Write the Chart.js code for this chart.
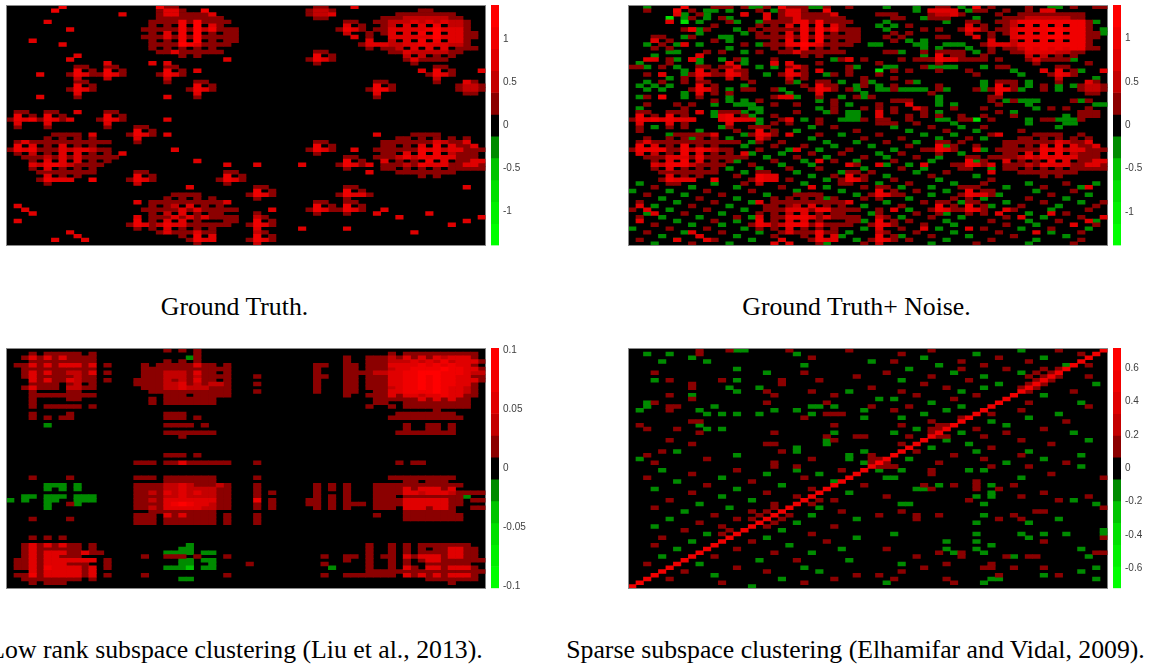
<!DOCTYPE html>
<html><head><meta charset="utf-8">
<style>
html,body{margin:0;padding:0;background:#fff;width:1159px;height:666px;overflow:hidden}
.w{position:absolute}
.w canvas{display:block}
.cap{position:absolute;white-space:nowrap;transform:translateX(-50%);font-family:"Liberation Serif","Times New Roman",serif;font-size:25.75px;line-height:30px;color:#000}
</style>
<script src="https://cdn.jsdelivr.net/npm/chart.js@4/dist/chart.umd.min.js"></script>
</head><body>
<script>
// Each entry: "row column values". Values: 0 empty, 1-5 rising reds, a-e rising greens.
const truthCells = [
"0 7 4","1 6 4","4 5 3","6 8 3","9 3 3","10 7 3","13 9 3","14 8 3","2 15 3","18 4 3","24 4 3","28 9 3",
"0 20 411","1 20 1331","1 26 4","2 20 13311113","3 20 111111111","4 19 11114151111","5 19 1010405031","6 18 1111141524111",
"7 19 103040501011","8 18 1113141511111","9 19 101040501011","10 19 11115431111","11 19 1010101010","12 20 113111111","13 23 101","14 29 3","15 19 3","15 21 3",
"15 13 3","16 9 11","16 13 11","17 9 401","17 13 401","18 8 14311431","19 9 2","19 13 2","20 9 11","21 9 401","22 8 1431","23 9 3","24 9 1",
"16 21 11","17 21 401","18 20 1431","19 21 2","20 21 1","24 21 3","17 25 3","20 25 11","21 25 401","22 24 1431","23 25 3","24 25 1",
"28 1 11","28 5 11","28 13 11","29 1 401","29 5 401","29 13 401","30 0 143414313","31 1 3","31 5 3","31 13 3","32 1 1","32 5 1","32 13 1","30 12 1431","30 21 3",
"32 17 11","33 17 401","34 16 1431","35 17 3","36 17 1","34 21 3",
"34 6 1111","34 11 3","35 5 1010101","36 1 1311111111111","37 1 403010301010","38 0 14341113233211","39 1 10201030301","39 13 1","39 15 3",
"40 2 1112131311111","41 3 103030301","41 13 1","42 3 3244321111","43 3 103010101","44 4 11111111","45 5 30101","46 4 14333","47 5 1","46 11 4",
"44 17 11","45 17 401","46 16 1431","47 17 2","38 22 3","41 25 3","42 29 3","42 33 3",
"44 29 11","45 29 401","46 28 1431","47 29 1","48 24 3","52 17 3",
"53 1 3","54 2 3","55 3 3","57 1 3","60 8 3","61 9 3","62 10 3","62 6 3",
"50 22 1111","51 21 1010101","52 19 11111111113","53 19 1012030101","54 18 1111131311111","55 19 1020301011","56 17 30111313131111","57 17 4010303010","57 29 11","58 16 14312433111111","59 17 101030101","59 27 1","60 20 13111311","61 23 104030","62 24 1433","63 25 1",
"0 41 11","1 40 1221","2 40 1223","3 41 11","0 46 3","4 45 11","5 45 301","6 44 1431","7 45 2","8 46 3",
"1 55 11","2 52 11111111","3 50 11122222211","4 49 1122232323221","5 50 120303040221","6 49 1133333453331","7 48 10130304050 3311","8 48 100333333533311","9 48 300203040403 31","10 47 133322334333221","11 48 10112030303 0111","12 51 1132222211","13 53 20201 01","14 53 131111","15 54 1",
"12 41 11","13 41 401","14 40 1431","15 41 1",
"16 57 11","17 55 3","17 57 401","17 63 3","18 56 1431","19 57 2","20 57 1",
"20 49 11","21 49 401","22 48 1441","23 49 3","24 49 1","20 61 31","21 60 1221","22 60 1221","23 61 11",
"34 49 3","38 46 3","36 41 11","37 41 401","38 40 1431","39 41 1","40 45 11","41 45 401","42 44 14313","43 45 1","44 48 3","42 39 3",
"48 33 11","49 33 401","50 32 1431","51 33 1","48 45 11","49 45 401","50 44 14331","51 45 1",
"52 41 11","53 41 401","54 40 14311431","55 41 1","55 45 1","52 45 11","53 45 401",
"54 35 3","55 49 3","54 50 3","56 52 3","55 56 3","56 63 3","57 61 3","58 59 3","60 54 3","59 39 3","59 45 3",
"55 33 1","56 33 21","57 33 401","58 32 1431","59 33 3","60 33 21","61 33 401","62 32 1431","63 33 2",
"34 54 1111","35 52 1101010101","36 50 11111113211 3","37 50 1101030403 113","38 49 111111434233111","39 50 110304040211 1","40 49 11124243433111","41 50 301010403011331","42 50 11121433311331","43 50 11010101011111","44 52 11111111","45 55 101","48 61 3"
];

const noiseCells = [
"0 2 a","0 11 111","0 15 1","0 16 aa","0 18 1","0 21 1","0 23 1","0 24 aa","0 26 1","0 29 1","0 34 a","0 38 a","0 44 a","0 46 4","0 48 1","0 53 1","0 56 aa","0 59 1","0 62 11",
"1 2 1","1 6 3","1 8 1","1 10 aa","1 13 a","1 17 1","1 19 aa","1 38 a","1 40 3333","1 45 a","1 46 11","1 50 1","1 53 1","1 55 33",
"2 6 3","2 7 a","2 9 1","2 10 a","2 15 3","2 18 3","2 33 111","2 41 1131","2 49 1","2 60 1",
"3 5 c","3 7 a","3 8 1","3 10 a","3 12 1","3 13 a","3 18 3","3 35 11","3 39 a","3 40 111","3 46 a","3 50 1",
"4 5 3","4 7 c","4 9 a","4 13 1","4 14 a","4 17 a","4 18 11","4 34 a","4 42 a","4 49 a","4 62 a",
"5 11 1","5 17 1","5 33 a","5 35 a","5 37 1","5 45 1",
"6 7 1","6 8 4","6 9 a","6 10 1","6 14 a","6 16 1","6 18 1","6 34 a","6 39 1","6 41 1","6 47 1","6 63 a",
"7 9 a","7 15 a","7 17 1","7 35 1","7 37 1","7 45 1","7 63 a",
"8 3 11","8 7 a","8 8 1","8 12 aa","8 17 1","8 34 1","8 36 1","8 41 11",
"9 3 3","9 5 1","9 11 1","9 13 a","9 35 1","9 37 a","9 39 a",
"10 2 a","10 4 1","10 6 a","10 7 1","10 9 a","10 15 1","10 17 a","10 18 11","10 29 1","10 32 aa","10 38 aa","10 42 aaa",
"11 3 1","11 5 1","11 13 a","11 39 a","11 41 a","11 45 a",
"12 5 aa","12 10 1","12 12 1","12 15 a","12 17 1","12 34 11","12 36 a","12 39 1","12 42 1","12 43 11","12 46 a","12 48 1",
"13 3 a","13 9 3","13 39 a","13 41 3","13 43 11","13 47 1",
"14 2 33","14 5 1","14 6 a","14 8 3","14 9 a","14 12 a","14 14 1","14 15 a","14 19 1","14 27 a","14 28 1","14 29 3","14 31 1","14 36 1","14 38 111333111","14 47 1","14 49 1","14 59 a",
"15 1 a","15 5 1","15 9 a","15 13 3","15 15 a","15 19 3","15 21 3","15 25 1","15 33 1","15 61 1",
"16 0 11","16 2 a","16 4 1","16 6 a","16 9 11","16 12 113","16 17 a","16 19 a","16 22 3","16 23 1","16 29 1","16 30 a","16 34 aa","16 39 1","16 40 a","16 41 aaa","16 47 a","16 49 11",
"17 7 a","17 9 3","17 14 1","17 21 3","17 29 1","17 33 c","17 35 1","17 37 1","17 41 1","17 45 1","17 51 a","17 55 1","17 60 a",
"18 2 1","18 4 3","18 7 a","18 8 1","18 11 1","18 14 1","18 18 a","18 23 1","18 26 a","18 27 1","18 29 1","18 33 1","18 46 1","18 52 a","18 58 11",
"19 5 a","19 7 1","19 15 1","19 23 1","19 31 1","19 35 1","19 62 a",
"20 2 a","20 4 1","20 7 1","20 16 1","20 21 aa","20 25 11","20 28 a","20 31 1","20 32 a","20 37 1","20 38 a","20 47 a","20 49 111","20 53 a",
"21 1 a","21 3 a","21 5 a","21 15 a","21 23 1","21 26 1","21 30 a","21 31 1","21 33 a","21 35 1","21 41 1","21 47 a","21 53 a","21 55 1","21 57 a","21 59 a",
"22 2 a","22 4 a","22 10 1","22 13 a","22 15 11","22 19 1","22 20 a","22 29 1","22 30 a","22 33 aa","22 35 1","22 36 aaaa","22 41 1","22 42 a","22 46 1","22 47 a","22 52 a","22 55 1","22 57 a",
"23 7 a","23 11 1","23 13 1","23 21 a","23 31 a","23 40 1",
"24 1 a","24 2 1","24 4 4","24 7 a","24 13 a","24 19 1","24 20 33","24 22 a","24 25 a","24 28 a","24 30 1","24 31 a","24 32 1","24 41 a","24 48 1",
"25 11 1","25 13 a","25 15 a","25 17 1","25 25 a","25 27 1","25 35 111","25 41 a","25 48 1","25 50 a","25 51 1","25 52 aaa","25 59 1","25 60 a","25 61 1",
"26 2 1","26 6 1","26 8 1","26 11 a","26 14 aaa","26 19 1","26 22 1","26 27 1","26 29 a","26 33 1","26 37 3","26 41 a","26 43 a","26 49 1","26 53 a","26 62 aa",
"27 1 a","27 7 1","27 16 aa","27 25 a","27 27 1","27 31 1","27 33 1","27 35 1","27 38 3","27 39 1","27 43 1","27 47 1","27 54 a","27 56 1","27 58 1","27 61 1",
"28 1 11","28 6 11","28 9 3","28 11 a","28 12 11","28 15 a","28 17 a","28 22 1","28 26 a","28 27 1","28 29 aa","28 33 3","28 35 1","28 39 1","28 41 a","28 49 1","28 51 a","28 60 111",
"29 1 3","29 7 1","29 11 a","29 12 33","29 16 a","29 19 1","29 29 aa","29 33 3","29 37 1","29 39 1","29 41 1","29 44 1","29 47 1","29 51 1","29 58 a","29 60 111",
"30 1 13333333","30 12 33333","30 17 a","30 20 1","30 21 3","30 23 a","30 25 1","30 28 aaa","30 31 1","30 33 11","30 37 1","30 41 aa","30 44 1","30 45 1","30 46 c","30 48 1","30 53 a","30 55 11","30 57 aaa","30 60 1",
"31 5 1","31 7 1","31 13 1","31 17 a","31 19 1","31 21 1","31 25 1","31 33 111","31 38 1","31 43 a","31 53 a","31 58 aa",
"32 3 a","32 7 1","32 12 a","32 16 1","32 24 a","32 27 1","32 35 a","32 40 1","32 44 a","32 47 1","32 57 a",
"33 1 1","33 9 a","33 14 1","33 19 a","33 22 a","33 30 1","33 37 a","33 42 1","33 46 a","33 52 1",
"34 5 a","34 10 1","34 15 a","34 25 1","34 28 a","34 33 1","34 39 a","34 43 a","34 48 1","34 60 1",
"35 2 1","35 8 a","35 13 a","35 18 1","35 24 a","35 31 1","35 36 1","35 41 a","35 45 1","35 47 a",
"36 14 1","36 16 a","36 20 1","36 26 a","36 30 a","36 34 1","36 38 a","36 44 1",
"37 15 a","37 19 1","37 23 1","37 27 a","37 32 a","37 37 1","37 42 a","37 46 1",
"38 17 1","38 21 a","38 25 a","38 29 1","38 35 a","38 39 1","38 43 a","38 47 a",
"39 16 a","39 20 a","39 24 1","39 28 1","39 33 a","39 36 1","39 44 a",
"40 15 1","40 18 a","40 22 1","40 26 a","40 31 1","40 34 a","40 38 1","40 41 a","40 48 1",
"41 14 a","41 19 1","41 23 a","41 27 1","41 30 a","41 35 1","41 40 a","41 46 a",
"42 16 1","42 20 a","42 24 a","42 30 1","42 34 a","42 37 a","42 43 1","42 47 a",
"43 13 a","43 17 a","43 21 1","43 25 1","43 31 a","43 36 1","43 39 a","43 44 1","43 48 a",
"44 15 a","44 18 1","44 22 a","44 28 a","44 32 1","44 38 a","44 42 1",
"45 14 1","45 18 33","45 24 a","45 27 1","45 34 a","45 40 1","45 46 a",
"46 18 33","46 21 1","46 26 a","46 30 1","46 35 1","46 41 a","46 48 1",
"47 1 a","47 6 1","47 11 a","47 15 1","47 23 a","47 28 1","47 33 a","47 37 1","47 43 a","47 47 1","47 53 a","47 58 1","47 62 a",
"48 3 1","48 8 a","48 14 a","48 20 1","48 26 a","48 31 1","48 36 a","48 40 a","48 44 1","48 50 a","48 55 1","48 60 a",
"49 0 a","49 5 a","49 10 1","49 16 1","49 22 a","49 28 a","49 38 1","49 42 a","49 48 1","49 54 a","49 59 1",
"50 2 1","50 7 a","50 12 1","50 18 a","50 24 1","50 30 a","50 36 1","50 40 a","50 49 a","50 56 1","50 61 a",
"51 4 a","51 9 1","51 14 a","51 19 1","51 26 a","51 31 1","51 37 a","51 43 1","51 47 a","51 53 1","51 58 a",
"52 1 1","52 6 a","52 11 1","52 16 a","52 34 a","52 39 1","52 44 a","52 50 a","52 55 1","52 60 a","52 63 1",
"53 3 a","53 8 1","53 13 a","53 18 1","53 31 a","53 36 1","53 48 a","53 52 1","53 57 a","53 62 1",
"54 0 1","54 5 a","54 10 1","54 15 a","54 33 1","54 37 a","54 51 1","54 56 a","54 61 1",
"55 2 a","55 7 1","55 12 a","55 17 1","55 32 a","55 38 1","55 42 a","55 47 1","55 53 a","55 58 1",
"56 1 1","56 4 a","56 9 a","56 14 1","56 16 a","56 36 a","56 40 1","56 44 a","56 50 1","56 55 a","56 60 1",
"57 6 a","57 11 1","57 14 a","57 31 a","57 37 1","57 42 a","57 48 1","57 53 a","57 57 1","57 62 a",
"58 3 1","58 8 a","58 12 a","58 35 a","58 39 1","58 43 a","58 50 1","58 54 a","58 62 1",
"59 0 a","59 5 1","59 10 1","59 15 a","59 31 a","59 36 1","59 41 a","59 47 1","59 52 a","59 56 1","59 61 a",
"60 2 1","60 7 a","60 12 1","60 17 a","60 29 a","60 38 1","60 43 a","60 49 1","60 56 a","60 60 1",
"61 4 a","61 9 3","61 14 a","61 19 1","61 28 a","61 36 a","61 40 1","61 45 a","61 51 1","61 58 a",
"62 1 1","62 6 a","62 11 1","62 16 a","62 20 3","62 24 1","62 30 a","62 37 1","62 42 a","62 48 1","62 54 a","62 60 1",
"63 3 a","63 8 1","63 13 a","63 19 3","63 21 3","63 26 a","63 31 1","63 40 a","63 46 1","63 53 a","63 59 1"
];

// brighter cells of the four large blobs in the noisy panel
const noisyBlobCells = [
"4 52 444444444","5 53 40404044","6 52 444454444","7 53 40405044","8 52 444454444","9 53 40404044","10 52 444444444","11 53 40404044","12 53 3333",
"2 21 33","3 22 3","4 22 33","5 21 3","5 23 3","6 23 4","7 23 4","6 25 5","7 25 5","8 25 4","9 21 4","10 21 44","10 23 4","11 23 4","9 25 3",
"37 1 4","38 1 44","39 1 3","38 3 44","40 5 333","37 7 4","38 7 4","39 7 4","41 7 4","38 9 4","40 9 4","42 5 44","42 7 4",
"54 21 33","56 21 44","58 21 44","56 23 4","58 23 4","54 25 44","58 25 4","60 25 4"
];

const lowRankCells = [
"0 21 1","0 23 1","0 25 1",
"1 3 1","1 5 11111","1 11 1","1 25 1","1 51 1","1 53 1111111111",
"2 2 131313","2 8 1111","2 24 a","2 25 1","2 45 1","2 48 111","2 51 2131313233 31",
"3 3 111111111","3 21 1","3 23 1","3 25 1","3 45 1","3 48 111","3 51 2223232423331",
"4 1 11313133","4 9 3","4 10 13","4 13 1","4 18 1","4 20 11111311","4 29 1","4 41 11","4 45 11","4 48 111","4 51 333343434331",
"5 2 1111111111","5 18 11111111111","5 29 1","5 41 1","5 45 11","5 48 111","5 51 2334444544331",
"6 2 1313112213","6 13 1","6 18 111222","6 24 1","6 25 311","6 29 1","6 41 1","6 45 111","6 48 1","6 49 22334455","6 57 5","6 58 4443222",
"7 2 1311111","7 9 2","7 10 11","7 18 111222","7 24 1","7 25 211","7 28 11","7 33 1","7 41 11","7 45 11","7 48 111","7 51 3344","7 55 5454433","7 62 11",
"8 3 3131","8 7 1","8 8 3211","8 13 1","8 17 1111","8 21 212","8 24 1","8 25 311","8 29 1","8 41 1","8 45 11","8 48 111","8 51 33445454433","8 62 31",
"9 3 1111","9 8 12","9 11 1","9 17 1111","9 21 2231","9 25 2122","9 29 1","9 33 1","9 41 1","9 45 11","9 48 111","9 51 33445454433","9 62 1",
"10 2 13111","10 8 2211","10 18 111","10 21 223222","10 27 111","10 41 1","10 45 11","10 48 111","10 51 23445454332","10 62 1",
"11 3 1","11 8 11","11 19 11111111111","11 33 1","11 41 1","11 45 11","11 49 11","11 51 33444454332","11 62 1",
"12 3 111111111","12 21 111","12 25 11111","12 45 1","12 48 1","12 49 11","12 51 313323343311",
"13 3 1","13 8 11","13 19 1","13 21 1111111","13 49 11","13 51 1111313131","13 61 1",
"14 3 1","14 19 1","14 21 1111111","14 49 11","14 53 111111111",
"15 3 1","15 5 11111","15 11 1","15 48 1","15 51 1","15 53 111111111",
"16 57 1",
"17 3 1","17 8 1","17 21 111","17 52 11111111",
"18 3 1","18 5 1","18 7 11","18 21 111","18 25 1","18 51 1111111111",
"20 5 a","20 21 1111","20 26 1","20 53 1","20 56 11","20 59 1",
"21 53 1","21 56 11","21 59 1","22 21 1111111","22 52 11111111","23 23 1",
"28 21 111","28 25 1","30 17 111","30 21 11311111","30 29 1","30 33 1","30 52 1","30 54 11",
"34 3 1","34 8 1","34 17 111","34 21 1111111","34 33 1","34 51 111111111",
"35 21 1111111","35 53 11","35 56 111",
"36 5 aaa","36 9 a","36 17 1111","36 21 22321112","36 29 1","36 33 1","36 41 1","36 43 1","36 45 1","36 49 111111111111",
"37 5 a","37 7 a","37 9 a","37 17 1111","37 21 2232222","37 28 11","37 33 1","37 41 1","37 43 1","37 45 1","37 49 1111","37 53 3133313",
"38 17 1121","38 21 3232322","38 28 11","38 33 1","38 35 1","38 41 1","38 45 1","38 49 1111","38 53 3323332","38 60 1111",
"39 2 aa","39 5 aaa","39 9 aaa","39 17 1111","39 21 2232222","39 28 11","39 33 1","39 41 1","39 43 1","39 45 1","39 49 111","39 53 1111111","39 60 1","39 61 a",
"40 0 a","40 2 a","40 5 aa","40 9 aaa","40 17 1121","40 21 3333333","40 28 11","40 33 4","40 35 1","40 40 11","40 43 1","40 45 1","40 49 1111","40 53 333333","40 59 11","40 62 11",
"41 5 a","41 8 1","41 9 a","41 17 1111","41 21 3454332","41 28 11","41 33 1","41 35 1","41 40 11","41 43 1","41 45 111","41 49 1111","41 53 333333","41 59 11",
"42 5 a","42 17 1121","42 21 3333322","42 28 11","42 33 1","42 35 1","42 41 1","42 43 1","42 45 1","42 49 111","42 53 333133","42 59 1","42 62 11",
"43 19 11","43 21 1111111","43 53 1111111",
"44 17 111","44 21 3131111","44 29 1","44 33 1","44 49 1","44 53 11111","44 58 111",
"45 3 1","45 8 1","45 17 111","45 21 1111111","45 29 1","45 33 1","45 53 11111111",
"46 17 111","46 21 1111111","46 29 1","46 33 1",
"50 3 1","50 5 1","50 7 1",
"52 2 1313131","52 9 1","52 11 1","52 24 a","52 48 1","52 51 1","52 53 1","52 55 11111","52 60 11",
"53 2 13111111","53 11 1","53 23 aa","53 48 1","53 51 1","53 53 1","53 55 1","53 57 113311",
"54 2 131333113","54 11 11","54 21 aaaa","54 26 aa","54 48 1","54 51 1","54 53 1","54 55 1111","54 59 3311",
"55 2 1313 3111","55 18 1","55 21 111","55 25 1","55 29 1","55 42 1","55 45 11","55 48 1","55 50 11","55 53 31333133 11",
"56 1 113133333 33","56 13 1","56 23 aa","56 26 aa","56 45 1","56 48 1","56 51 1","56 53 1","56 55 1","56 56 33111111",
"57 1 1131333111","57 13 1","57 23 aa","57 27 a","57 32 1","57 42 1","57 48 1","57 51 1","57 53 1","57 56 111111",
"58 1 1131433331 3","58 13 1","58 21 aaa","58 24 b","58 26 aa","58 43 a","58 48 1","58 51 1","58 53 31","58 56 3313331",
"59 3 3133333 13","59 48 11111","59 53 11111111111",
"60 1 1141333331 3","60 13 1","60 18 1","60 29 1","60 42 1","60 45 111","60 48 1111","60 53 3131313331",
"61 2 11111111","61 11 1","61 23 aa","61 56 1111111",
"62 3 1","62 5 111","62 59 1"
];

const sparseCells = [
// main diagonal, read from the lower left to the upper right
"63 0 4","62 1 4","61 2 4","60 3 4","59 4 4","58 5 4","57 6 4","56 7 4","55 8 4","54 9 4","53 10 4","52 11 4","51 12 4","50 13 4","49 14 4","48 15 4",
"47 16 4","46 17 4","45 18 4","44 19 4","43 20 4","42 21 4","41 22 4","40 23 4","39 24 4","38 25 4","37 26 4","36 27 4","35 28 4","34 29 4","33 30 4","32 31 4",
"31 32 4","30 33 5","29 34 4","28 35 4","27 36 4","26 37 4","25 38 4","24 39 4","23 40 4","22 41 4","21 42 4","20 43 4","19 44 4","18 45 4","17 46 4","16 47 4",
"15 48 4","14 49 4","13 50 4","12 51 4","11 52 4","10 53 4","9 54 4","8 55 4","7 56 4","6 57 4","5 58 4","4 59 4","3 60 4","2 61 4","1 62 4","0 63 4",
// blocks along the diagonal
"28 32 1","29 32 11","30 32 1","30 34 1","31 33 111","20 41 11","21 40 111","22 40 1","23 41 11",
"5 55 1","5 57 1","6 54 1","6 56 1","7 53 1","7 55 1","7 57 1","8 54 1","8 56 1","9 53 1","9 55 1","10 52 1","10 54 1","11 53 1",
"43 18 1","44 17 1","44 21 1","45 16 1","45 20 1","46 19 1","47 18 1","42 19 1","41 24 1","40 25 1","48 13 1","49 12 1",
// upper left
"0 9 1","0 13 1","0 14 aa","0 21 1","0 29 1",
"1 2 a","1 5 a","1 9 1","1 22 a",
"2 8 a","2 24 1","3 4 a","3 10 a","3 32 a","4 23 a","5 14 a",
"6 3 1","6 18 a","6 23 1","7 30 1","8 3 a","8 5 1","8 12 1","8 14 a","8 20 1","8 25 1",
"9 8 1","9 20 1","10 8 1","10 13 a","10 17 a","10 32 1",
"11 14 a","11 18 1","11 24 1","11 29 a","12 5 1","12 8 a","12 19 1","12 27 1","13 8 1","13 33 a",
"14 2 a","14 3 1","14 18 1","14 26 1","15 2 a","15 5 11","15 11 a","15 24 aa","15 27 a","15 32 1",
"16 1 a","16 5 1","16 9 a","16 19 a","16 22 a","16 31 a",
"17 10 a","17 12 a","17 14 a","17 17 a","17 24 a","17 26 111",
"18 23 1","18 31 a","19 8 11","20 1 1","20 9 a","20 27 1",
"21 2 1","21 6 1","21 10 a","21 12 a","22 9 1","22 19 1","22 27 a","23 26 1","23 30 11",
"24 5 1","24 26 a","24 27 1","25 8 1","25 18 11","25 26 a",
"26 22 a","27 4 1","27 6 a","27 20 1","27 22 a","27 31 a",
"28 2 1","28 14 a","28 29 a","29 1 a","29 10 1","29 24 1","29 29 a",
"30 3 1","30 19 1","30 31 a","31 19 1","31 22 1","31 33 a",
// upper right
"0 40 1","0 52 a","0 57 1","1 36 1","1 46 a","1 60 1","2 39 a","2 49 1","2 55 a",
"3 35 1","3 44 1","3 53 1","4 41 a","4 47 1","4 58 a","4 61 1",
"5 37 a","5 44 1","5 50 1","6 34 1","6 43 a","6 52 a","7 40 1","7 47 a","7 61 1",
"8 36 a","8 45 1","9 39 1","9 49 a","9 62 a","10 42 1","10 47 a","11 36 1","11 44 a","11 59 1",
"12 38 1","12 46 1","12 55 a","13 35 a","13 43 1","14 40 a","14 53 1","14 60 a","15 37 1","15 44 a","15 61 1",
"16 35 1","16 42 a","16 52 1","17 39 a","17 48 1","17 57 a","18 36 a","18 44 1","18 53 a",
"19 40 1","19 48 a","19 58 1","20 36 1","20 50 a","21 38 a","21 46 1","21 55 1","22 35 a","22 44 a","22 50 1","22 59 a",
"23 37 1","23 47 1","24 42 a","24 52 1","24 61 a","25 36 1","25 45 a","25 56 1","26 40 a","26 48 1",
"27 38 1","27 46 a","27 53 a","28 43 1","28 52 1","28 60 a","29 37 a","29 47 1","29 55 a","30 41 1","30 50 a","30 58 1",
// lower right
"31 33 111","31 48 1","31 53 1","31 60 a","32 33 a","32 36 a","32 40 1","32 45 a","32 47 a","33 40 1","33 56 1",
"34 34 aa","34 52 a","34 63 1","35 46 1","36 39 1","36 41 a","36 43 1","36 46 1","36 48 a","36 51 1",
"37 38 aa","37 40 1","37 46 1","37 49 1","38 48 a","38 55 1","39 34 1","39 46 a","39 48 a","39 52 1","39 61 1",
"40 45 1","40 57 1","40 59 a","41 36 aa","41 47 a","41 62 a","42 63 1","43 36 1","43 54 11",
"44 33 1","44 38 1","44 41 1","44 47 a","44 51 1","45 38 1","45 49 1","45 52 1","45 57 a","46 46 a","46 53 a",
"48 63 a","49 35 a","49 46 a","49 52 a","49 55 a","49 58 a","49 63 a","50 53 a","50 63 1",
"51 42 a","51 46 a","51 55 1","52 48 a","53 34 1","53 42 a","53 46 a","53 60 a",
"54 41 1","54 43 a","54 44 1","54 47 a","54 62 11","55 38 1","55 44 1","55 50 1","55 51 a","55 53 11","55 61 a",
"57 36 a","57 42 1","57 48 1","58 39 1","58 47 11","58 51 1","58 55 1","58 62 a","59 36 1","59 60 a",
"60 33 1","60 49 1","60 55 a","60 57 1","61 35 1","61 42 1","61 48 aa","61 62 a","62 34 a","62 43 1","62 47 a",
// lower left
"32 4 a","32 14 1","32 22 a","32 28 1","33 8 1","33 18 a","33 25 a","34 2 1","34 12 a","34 23 1",
"35 6 a","35 16 1","35 27 a","36 10 1","36 20 a","36 31 1","37 3 a","37 14 a","37 24 1",
"38 8 1","38 18 1","38 29 a","39 12 a","39 22 1","40 5 1","40 16 a","40 27 1","41 9 a","41 19 1",
"42 3 1","42 13 a","42 25 a","43 7 a","43 16 1","43 28 1","44 11 1","44 24 a","45 5 a","45 14 1","45 30 a",
"46 9 1","46 22 a","47 3 a","47 12 1","47 27 1","48 7 1","48 20 a","49 10 a","49 24 1","50 4 1","50 18 a","50 30 a",
"51 8 a","51 16 1","51 26 1","52 3 1","52 21 a","53 6 a","53 14 1","53 28 a","54 19 1","54 24 a","55 4 a","55 11 1",
"56 17 a","56 22 1","56 29 a","57 2 1","57 9 a","58 14 1","58 23 a","59 7 1","59 18 1","59 25 a","60 11 a","60 30 1",
"61 5 1","61 20 a","61 27 1","62 12 1","62 23 1","63 16 a"
];

const rowLabels = Array.from({length:64},(_,i)=>String(i));
const levelOrder = ['5','4','3','2','1','e','d','c','b','a'];
const levelColors = {'1':'#8b0000','2':'#c40000','3':'#e00000','4':'#f00000','5':'#ff0000',
                     'a':'#008b00','b':'#00c400','c':'#00e000','d':'#00f000','e':'#00ff00'};

// colour bar bands, bottom to top
const bandColors = ['#00ff00','#00f000','#00e000','#00c400','#008b00','#000000','#8b0000','#c40000','#e00000','#f00000','#ff0000'];
const truthEdges = [-1.395,-1.141,-0.887,-0.634,-0.380,-0.127,0.127,0.380,0.634,0.887,1.141,1.395];
const noisyEdges = [-1.39,-1.137,-0.884,-0.632,-0.379,-0.126,0.126,0.379,0.632,0.884,1.137,1.39];
const lowRankEdges = [-0.102,-0.0835,-0.0649,-0.0464,-0.0278,-0.0093,0.0093,0.0278,0.0464,0.0649,0.0835,0.102];
const sparseEdges = [-0.72,-0.589,-0.458,-0.327,-0.196,-0.0655,0.0655,0.196,0.327,0.458,0.589,0.72];
const truthTicks = [-1,-0.5,0,0.5,1];
const lowRankTicks = [-0.1,-0.05,0,0.05,0.1];
const sparseTicks = [-0.6,-0.4,-0.2,0,0.2,0.4,0.6];

const captions = ["Ground Truth.","Ground Truth+ Noise.","Low rank subspace clustering (Liu et al., 2013).","Sparse subspace clustering (Elhamifar and Vidal, 2009)."];

const blackPlot = {id:'blackPlot',beforeDatasetsDraw(c){const a=c.chartArea;c.ctx.save();c.ctx.fillStyle='#000';c.ctx.fillRect(a.left,a.top,a.right-a.left,a.bottom-a.top);c.ctx.restore();}};

function makeCanvas(l,t,w,h){
  const d=document.createElement('div');d.className='w';d.style.cssText=`left:${l}px;top:${t}px;width:${w}px;height:${h}px`;
  const c=document.createElement('canvas');c.width=w;c.height=h;c.style.width=w+'px';c.style.height=h+'px';d.appendChild(c);document.body.appendChild(d);return c;
}
function buildDatasets(cells){
  const byLevel={};levelOrder.forEach(k=>byLevel[k]=[]);
  cells.forEach(s=>{
    const p=s.split(' '),r=+p[0],c=+p[1],vals=p.slice(2).join('');
    [...vals].forEach((ch,i)=>{ if(ch!=='0'&&c+i<64&&byLevel[ch]) byLevel[ch].push({y:String(r),x:[c+i,c+i+1]}); });
  });
  return levelOrder.map(k=>({data:byLevel[k],backgroundColor:levelColors[k],borderWidth:0,inflateAmount:0.33,barPercentage:1,categoryPercentage:1,grouped:false}));
}
function heatmap(cells,left,top,right,bottom){
  const L=Math.floor(left)-1,T=Math.floor(top)-1,W=Math.ceil(right)+2-L,H=Math.ceil(bottom)+2-T;
  const hid={ticks:{display:false},grid:{display:false,drawTicks:false}};
  const edge={display:true,color:'#8a8a8a',width:1,z:2};
  new Chart(makeCanvas(L,T,W,H),{type:'bar',
    data:{labels:rowLabels,datasets:buildDatasets(cells)},
    plugins:[blackPlot],
    options:{indexAxis:'y',responsive:false,animation:false,
      layout:{padding:{left:left-L,top:top-T,right:L+W-right,bottom:T+H-bottom}},
      plugins:{legend:{display:false},tooltip:{enabled:false}},
      scales:{
        x:{type:'linear',min:0,max:64,position:'bottom',...hid,border:edge},
        xTop:{type:'linear',min:0,max:64,position:'top',display:true,...hid,border:edge},
        y:{type:'category',position:'left',...hid,border:edge}
      }}});
}
function colorbar(edges,ticks,left,top,bottom){
  const pad=20,W=40,T=Math.floor(top)-pad,H=Math.ceil(bottom)+pad-T;
  const maxV=edges[edges.length-1];
  new Chart(makeCanvas(left,T,W,H),{type:'bar',
    data:{labels:['bar'],datasets:[{
      data:bandColors.map((_,i)=>({x:'bar',y:[edges[i],edges[i+1]]})),
      backgroundColor:bandColors,borderWidth:0,inflateAmount:0.33,barPercentage:1,categoryPercentage:1,grouped:false}]},
    options:{responsive:false,animation:false,
      layout:{padding:{left:0,right:0,top:top-T,bottom:T+H-bottom}},
      plugins:{legend:{display:false},tooltip:{enabled:false}},
      scales:{
        x:{type:'category',display:false},
        y:{type:'linear',position:'right',min:-maxV,max:maxV,
          afterBuildTicks:s=>{s.ticks=ticks.map(v=>({value:v}));},
          afterFit:s=>{s.width=W-8;},
          border:{display:false},
          grid:{drawOnChartArea:false,drawTicks:true,tickLength:-2,tickWidth:1,tickColor:'#555'},
          ticks:{padding:6,color:'#404040',font:{family:'"Liberation Sans",Arial,sans-serif',size:10},autoSkip:false,maxRotation:0,callback:v=>String(v)}
        }}}});
}
function caption(text,cx,y){const d=document.createElement('div');d.className='cap';d.textContent=text;d.style.left=cx+'px';d.style.top=y+'px';document.body.appendChild(d);}

heatmap(truthCells,6.5,5,485.5,245.5);
heatmap(truthCells.concat(noiseCells,noisyBlobCells),628.5,5,1107.5,245.5);
heatmap(lowRankCells,6.5,348.3,485.5,588.3);
heatmap(sparseCells,628.5,348.3,1107.5,588.3);
colorbar(truthEdges,truthTicks,491,5,245.5);
colorbar(noisyEdges,truthTicks,1113,5,245.5);
colorbar(lowRankEdges,lowRankTicks,491,348,588.3);
colorbar(sparseEdges,sparseTicks,1113,348,588.3);
caption(captions[0],234.5,292);
caption(captions[1],856.5,292);
caption(captions[2],236,635);
caption(captions[3],855.5,635);
</script>
</body></html>
